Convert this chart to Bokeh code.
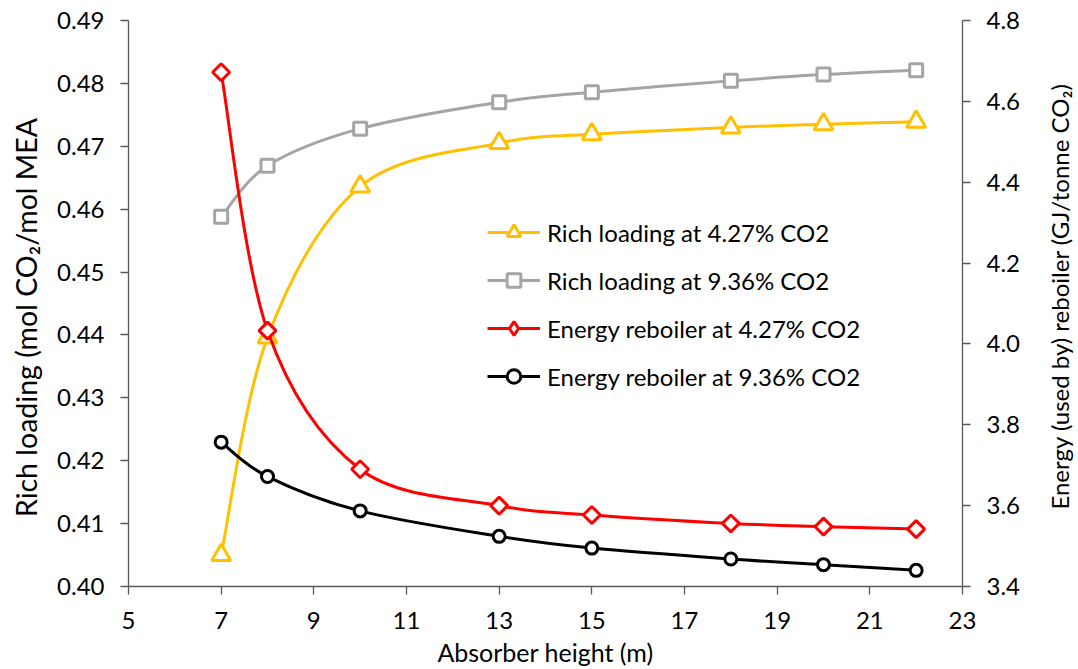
import math
from bokeh.plotting import figure
from bokeh.layouts import row
from bokeh.models import (Range1d, LinearAxis, FixedTicker, NumeralTickFormatter, Legend, LegendItem,
                          ColumnDataSource, Label)
from bokeh.embed import file_html
from bokeh.resources import INLINE

# ---- data ----
height_m = [7, 8, 10, 13, 15, 18, 20, 22]
rich_427 = [0.4050, 0.4396, 0.4636, 0.4705, 0.4719, 0.4730, 0.4735, 0.4739]
rich_936 = [0.4588, 0.4669, 0.4728, 0.4770, 0.4786, 0.4804, 0.4814, 0.4821]
energy_427 = [4.672, 4.033, 3.690, 3.600, 3.577, 3.556, 3.548, 3.542]
energy_936 = [3.757, 3.672, 3.587, 3.524, 3.495, 3.468, 3.454, 3.440]

labels = ["Rich loading at 4.27% CO2", "Rich loading at 9.36% CO2",
          "Energy reboiler at 4.27% CO2", "Energy reboiler at 9.36% CO2"]

x_ticks = [5, 7, 9, 11, 13, 15, 17, 19, 21, 23]
left_ticks = [0.40, 0.41, 0.42, 0.43, 0.44, 0.45, 0.46, 0.47, 0.48, 0.49]
right_ticks = [3.4, 3.6, 3.8, 4.0, 4.2, 4.4, 4.6, 4.8]

x_title = "Absorber height (m)"
left_title = "Rich loading (mol CO\u2082/mol MEA"
right_title = "Energy (used by) reboiler (GJ/tonne CO\u2082)"

FONT = "Lato"
FS = "24px"
H = 669


def smooth_segments(xs, ys):
    """Bezier control points for a smoothed line through the data points."""
    n = len(xs)
    d = dict(x0=[], y0=[], x1=[], y1=[], cx0=[], cy0=[], cx1=[], cy1=[])
    for i in range(n - 1):
        ip = max(i - 1, 0)
        inx = min(i + 2, n - 1)
        d["x0"].append(xs[i]); d["y0"].append(ys[i])
        d["x1"].append(xs[i + 1]); d["y1"].append(ys[i + 1])
        d["cx0"].append(xs[i] + (xs[i + 1] - xs[ip]) / 6)
        d["cy0"].append(ys[i] + (ys[i + 1] - ys[ip]) / 6)
        d["cx1"].append(xs[i + 1] - (xs[inx] - xs[i]) / 6)
        d["cy1"].append(ys[i + 1] - (ys[inx] - ys[i]) / 6)
    return ColumnDataSource(d)


def title_strip(text, width, center_from_top, font_size):
    """A narrow axis-free figure holding one vertical axis title (reads bottom-to-top)."""
    f = figure(width=width, height=H, x_range=Range1d(0, 1), y_range=Range1d(0, H),
               min_border=0, x_axis_location=None, y_axis_location=None,
               output_backend="svg", toolbar_location=None,
               background_fill_color="white", border_fill_color="white")
    f.outline_line_color = None
    f.grid.visible = False
    f.add_layout(Label(x=0.5, y=H - center_from_top, text=text, angle=math.pi / 2,
                       text_align="center", text_baseline="middle",
                       text_font=FONT, text_font_size=font_size, text_color="black"))
    return f


p = figure(width=990, height=H,
           min_border_left=78, min_border_right=78, min_border_top=20, min_border_bottom=81,
           x_range=Range1d(5, 23), y_range=Range1d(0.40, 0.49),
           output_backend="svg", toolbar_location=None,
           background_fill_color="white", border_fill_color="white")
p.outline_line_color = None
p.xgrid.visible = False
p.ygrid.visible = False
p.extra_y_ranges = {"energy": Range1d(3.4, 4.8)}

right_axis = LinearAxis(y_range_name="energy")
p.add_layout(right_axis, "right")

for ax in [p.xaxis[0], p.yaxis[0], right_axis]:
    ax.axis_line_color = "#595959"
    ax.axis_line_width = 1.3
    ax.major_tick_line_color = "#595959"
    ax.major_tick_line_width = 1.3
    ax.major_tick_out = 8
    ax.major_tick_in = 0
    ax.minor_tick_line_color = None
    ax.major_label_text_font = FONT
    ax.major_label_text_font_size = FS
    ax.major_label_text_color = "black"
    ax.major_label_standoff = 16
    ax.axis_label_text_font = FONT
    ax.axis_label_text_font_style = "normal"
    ax.axis_label_text_color = "black"

p.xaxis[0].ticker = FixedTicker(ticks=x_ticks)
p.xaxis[0].axis_label = x_title
p.xaxis[0].axis_label_text_font_size = "25px"
p.xaxis[0].major_label_standoff = 17
p.xaxis[0].axis_label_standoff = 5

p.yaxis[0].ticker = FixedTicker(ticks=left_ticks)
p.yaxis[0].formatter = NumeralTickFormatter(format="0.00")

right_axis.ticker = FixedTicker(ticks=right_ticks)
right_axis.formatter = NumeralTickFormatter(format="0.0")

series = [
    (rich_427, "#FFC000", "triangle", 19, "default", 0.0, None),
    (rich_936, "#A5A5A5", "square", 13, "default", 0.0, None),
    (energy_427, "#FF0000", "square", 12, "energy", math.pi / 4, "diamond"),
    (energy_936, "#000000", "circle", 12, "energy", 0.0, None),
]

items = []
for (ys, color, marker, size, rng, ang, legend_marker), label in zip(series, labels):
    src = smooth_segments(height_m, ys)
    kw = {} if rng == "default" else {"y_range_name": rng}
    b = p.bezier(x0="x0", y0="y0", x1="x1", y1="y1", cx0="cx0", cy0="cy0", cx1="cx1", cy1="cy1",
                 source=src, line_color=color, line_width=3, **kw)
    s = p.scatter(height_m, ys, marker=marker, size=size, angle=ang,
                  line_color=color, line_width=3, fill_color="white", **kw)
    rends = [b, s]
    if legend_marker is not None:
        # marker shape used only for the legend swatch (legend glyphs are never rotated)
        h = p.scatter(height_m, ys, marker=legend_marker, size=size,
                      line_color=color, line_width=3, fill_color="white", visible=False, **kw)
        rends = [b, h]
    items.append(LegendItem(label=label, renderers=rends))

legend = Legend(items=items, location=(359, 193), orientation="vertical",
                glyph_width=53, glyph_height=34, spacing=14, padding=0, margin=0,
                label_standoff=7, label_text_font=FONT, label_text_font_size=FS,
                label_text_color="black", border_line_alpha=0, background_fill_alpha=0)
p.add_layout(legend, "center")

left_strip = title_strip(left_title, 50, 351, "28.5px")
right_strip = title_strip(right_title, 38, 326, "24px")

layout = row(left_strip, p, right_strip, spacing=0)

open("out.html", "w").write(file_html(layout, INLINE))
